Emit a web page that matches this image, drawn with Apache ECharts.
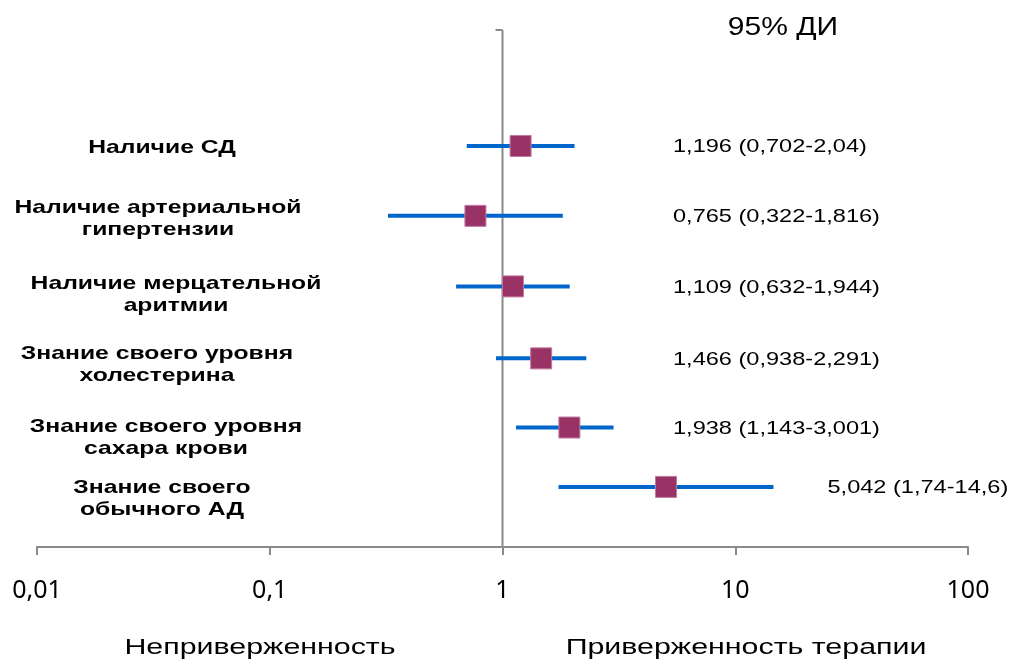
<!DOCTYPE html>
<html>
<head>
<meta charset="utf-8">
<script src="https://cdn.jsdelivr.net/npm/echarts@6.0.0/dist/echarts.min.js"></script>
<style>
  html, body { margin: 0; padding: 0; background: #fff; }
  #chart { width: 1021px; height: 664px; }
</style>
</head>
<body>
<div id="chart"></div>
<script>
// Factors (row labels), odds ratios and 95% confidence limits
const factorLabels = [
  ['Наличие СД'],
  ['Наличие артериальной', 'гипертензии'],
  ['Наличие мерцательной', 'аритмии'],
  ['Знание своего уровня', 'холестерина'],
  ['Знание своего уровня', 'сахара крови'],
  ['Знание своего', 'обычного АД']
];
const oddsRatio = [1.196, 0.765, 1.109, 1.466, 1.938, 5.042];
const ciLow     = [0.702, 0.322, 0.632, 0.938, 1.143, 1.74];
const ciHigh    = [2.04, 1.816, 1.944, 2.291, 3.001, 14.6];
// vertical level of each row on the hidden y scale
const rowLevel  = [5.74, 4.74, 3.73, 2.70, 1.71, 0.86];
const axisTicks = [0.01, 0.1, 1, 10, 100];
const headerText = '95% ДИ';
const leftTitle  = 'Неприверженность';
const rightTitle = 'Приверженность терапии';

const Y_TOP = 7.4;
const GRAY = '#8a8a8a';
const fmt = v => String(+Number(v).toPrecision(6)).replace('.', ',');

const chart = echarts.init(document.getElementById('chart'), null, { renderer: 'canvas' });

chart.setOption({
  animation: false,
  grid: { left: 37, right: 53, top: 30, bottom: 117 },
  xAxis: {
    type: 'log',
    logBase: 10,
    min: axisTicks[0],
    max: axisTicks[axisTicks.length - 1],
    axisLine: { lineStyle: { color: GRAY, width: 2 } },
    axisTick: { show: true, length: 8, lineStyle: { color: GRAY, width: 2 } },
    splitLine: { show: false },
    axisLabel: {
      margin: 31,
      color: '#000',
      fontFamily: 'Noto Sans',
      fontSize: 25,
      formatter: v => fmt(v)
    }
  },
  yAxis: { type: 'value', min: 0, max: Y_TOP, show: false },
  series: [
    {
      // line of no effect at OR = 1
      type: 'custom',
      silent: true,
      z: 1,
      data: [[1, Y_TOP]],
      renderItem(params, api) {
        const top = api.coord([1, Y_TOP]);
        const bot = api.coord([1, 0]);
        return {
          type: 'group',
          children: [
            { type: 'line', shape: { x1: top[0], y1: top[1], x2: bot[0], y2: bot[1] },
              style: { stroke: GRAY, lineWidth: 2 } },
            { type: 'line', shape: { x1: top[0] - 7, y1: top[1], x2: top[0], y2: top[1] },
              style: { stroke: GRAY, lineWidth: 2 } }
          ]
        };
      }
    },
    {
      // confidence intervals
      type: 'custom',
      z: 2,
      data: rowLevel.map((y, i) => [ciLow[i], ciHigh[i], y]),
      encode: { x: [0, 1], y: 2 },
      renderItem(params, api) {
        const a = api.coord([api.value(0), api.value(2)]);
        const b = api.coord([api.value(1), api.value(2)]);
        return {
          type: 'line',
          shape: { x1: a[0], y1: a[1], x2: b[0], y2: b[1] },
          style: { stroke: '#0066cc', lineWidth: 4 }
        };
      }
    },
    {
      // point estimates
      type: 'scatter',
      z: 3,
      symbol: 'rect',
      symbolSize: 21,
      data: oddsRatio.map((v, i) => [v, rowLevel[i]]),
      itemStyle: { color: '#993366', borderColor: '#c07aa0', borderWidth: 1, opacity: 1 }
    }
  ]
});

// Text blocks: row labels, OR (CI) values, header and bottom titles
const labelCenterX = 162;
const labelNudge = [[0, 2], [-4, 3], [14, 8], [-5, 6], [4, 10], [0, 12]];
const valueColumnX = 673;

function toPx(x, y) { return chart.convertToPixel({ gridIndex: 0 }, [x, y]); }

const graphics = [];
factorLabels.forEach((lines, i) => {
  const cy = toPx(1, rowLevel[i])[1];
  graphics.push({
    type: 'text',
    x: labelCenterX + labelNudge[i][0],
    y: cy + labelNudge[i][1],
    scaleX: 1.3,
    style: {
      text: lines.join('\n'),
      fontFamily: 'Liberation Sans',
      fontWeight: 'bold',
      fontSize: 19,
      lineHeight: 22,
      align: 'center',
      verticalAlign: 'middle',
      fill: '#000'
    }
  });
});

oddsRatio.forEach((v, i) => {
  const p = toPx(ciHigh[i], rowLevel[i]);
  graphics.push({
    type: 'text',
    x: Math.max(p[0] + 54, valueColumnX),
    y: p[1] + 1,
    scaleX: 1.24,
    style: {
      text: fmt(v) + ' (' + fmt(ciLow[i]) + '-' + fmt(ciHigh[i]) + ')',
      fontFamily: 'Liberation Sans',
      fontSize: 19,
      align: 'left',
      verticalAlign: 'middle',
      fill: '#000'
    }
  });
});

graphics.push({
  type: 'text', x: 783, y: 28, scaleX: 1.2,
  style: { text: headerText, fontFamily: 'Liberation Sans', fontSize: 25,
           align: 'center', verticalAlign: 'middle', fill: '#000' }
});
graphics.push({
  type: 'text', x: 260, y: 648, scaleX: 1.38,
  style: { text: leftTitle, fontFamily: 'Liberation Sans', fontSize: 22,
           align: 'center', verticalAlign: 'middle', fill: '#000' }
});
graphics.push({
  type: 'text', x: 746, y: 648, scaleX: 1.38,
  style: { text: rightTitle, fontFamily: 'Liberation Sans', fontSize: 22,
           align: 'center', verticalAlign: 'middle', fill: '#000' }
});

chart.setOption({ graphic: { elements: graphics } });
</script>
</body>
</html>
